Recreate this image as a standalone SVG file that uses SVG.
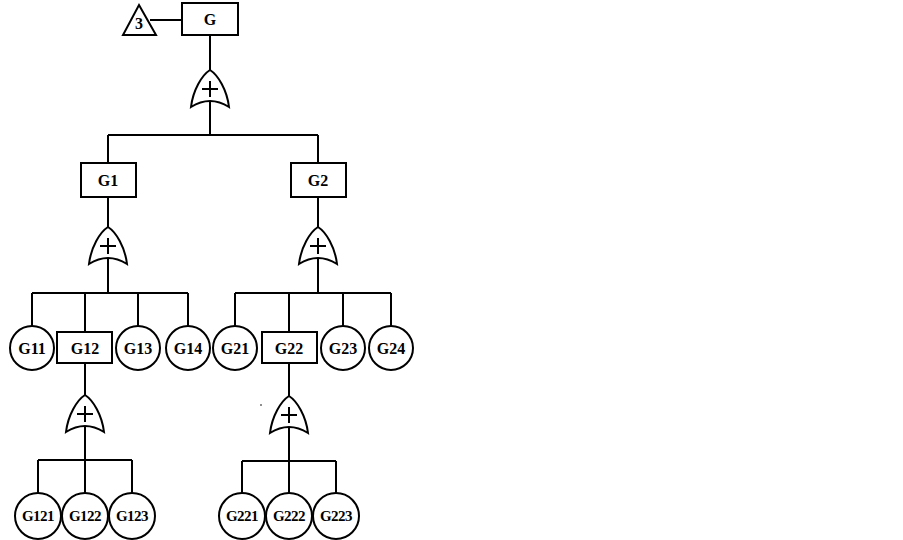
<svg xmlns="http://www.w3.org/2000/svg" width="903" height="540" viewBox="0 0 903 540">
<defs>
<style>
.s{fill:#fff;stroke:#000;stroke-width:2}
.l{fill:none;stroke:#000;stroke-width:2}
.t{font-family:"Liberation Serif",serif;font-weight:bold;font-size:16px;text-anchor:middle;fill:#000}
.t4{font-family:"Liberation Serif",serif;font-weight:bold;font-size:15px;text-anchor:middle;fill:#000;letter-spacing:-0.5px}
</style>
<g id="orgate">
<path class="s" d="M0,0 C8,5 17,20 19,37 Q0,25 -19,37 C-17,20 -8,5 0,0 Z"/>
<path class="l" d="M0,11 V27 M-8,19 H8"/>
</g>
</defs>
<rect width="903" height="540" fill="#fff"/>
<g id="connectors">
<path class="l" d="M150,20 H182"/>
<path class="l" d="M210,35 V70 M210,102 V135 M108,135 H318 M108,135 V163 M318,135 V163"/>
<path class="l" d="M108,197 V227 M108,259 V293 M32,293 H188 M32,293 V326 M85,293 V332 M138,293 V326 M188,293 V326"/>
<path class="l" d="M318,197 V227 M318,259 V293 M235,293 H391 M235,293 V326 M289,293 V332 M343,293 V326 M391,293 V326"/>
<path class="l" d="M85,363 V395 M85,427 V460 M38,460 H132 M38,460 V493 M85,460 V493 M132,460 V493"/>
<path class="l" d="M289,363 V396 M289,428 V461 M242,461 H336 M242,461 V493 M289,461 V493 M336,461 V493"/>
</g>
<g id="n3"><path class="s" d="M139,5 L156,35 H123 Z"/><text class="t" x="139" y="29">3</text></g>
<g id="nG"><rect class="s" x="182" y="3" width="56" height="32"/><text class="t" x="210" y="25">G</text></g>
<g id="gateG"><use href="#orgate" x="210" y="70"/></g>
<g id="nG1"><rect class="s" x="81" y="163" width="55" height="34"/><text class="t" x="108" y="186">G1</text></g>
<g id="nG2"><rect class="s" x="291" y="163" width="55" height="34"/><text class="t" x="318" y="186">G2</text></g>
<g id="gateG1"><use href="#orgate" x="108" y="227"/></g>
<g id="gateG2"><use href="#orgate" x="318" y="227"/></g>
<g id="nG11"><circle class="s" cx="32" cy="348" r="22"/><text class="t" x="32" y="354">G11</text></g>
<g id="nG12"><rect class="s" x="57" y="332" width="55" height="31"/><text class="t" x="85" y="354">G12</text></g>
<g id="nG13"><circle class="s" cx="138" cy="348" r="22"/><text class="t" x="138" y="354">G13</text></g>
<g id="nG14"><circle class="s" cx="188" cy="348" r="22"/><text class="t" x="188" y="354">G14</text></g>
<g id="nG21"><circle class="s" cx="235" cy="348" r="22"/><text class="t" x="235" y="354">G21</text></g>
<g id="nG22"><rect class="s" x="262" y="332" width="55" height="31"/><text class="t" x="289" y="354">G22</text></g>
<g id="nG23"><circle class="s" cx="343" cy="348" r="22"/><text class="t" x="343" y="354">G23</text></g>
<g id="nG24"><circle class="s" cx="391" cy="348" r="22"/><text class="t" x="391" y="354">G24</text></g>
<g id="gateG12"><use href="#orgate" x="85" y="395"/></g>
<g id="gateG22"><use href="#orgate" x="289" y="396"/></g>
<g id="nG121"><circle class="s" cx="38" cy="516" r="23"/><text class="t4" x="38" y="521">G121</text></g>
<g id="nG122"><circle class="s" cx="85" cy="516" r="23"/><text class="t4" x="85" y="521">G122</text></g>
<g id="nG123"><circle class="s" cx="132" cy="516" r="23"/><text class="t4" x="132" y="521">G123</text></g>
<g id="nG221"><circle class="s" cx="242" cy="516" r="23"/><text class="t4" x="242" y="521">G221</text></g>
<g id="nG222"><circle class="s" cx="289" cy="516" r="23"/><text class="t4" x="289" y="521">G222</text></g>
<g id="nG223"><circle class="s" cx="336" cy="516" r="23"/><text class="t4" x="336" y="521">G223</text></g>
<circle cx="261" cy="405" r="0.8" fill="#000"/>
</svg>
